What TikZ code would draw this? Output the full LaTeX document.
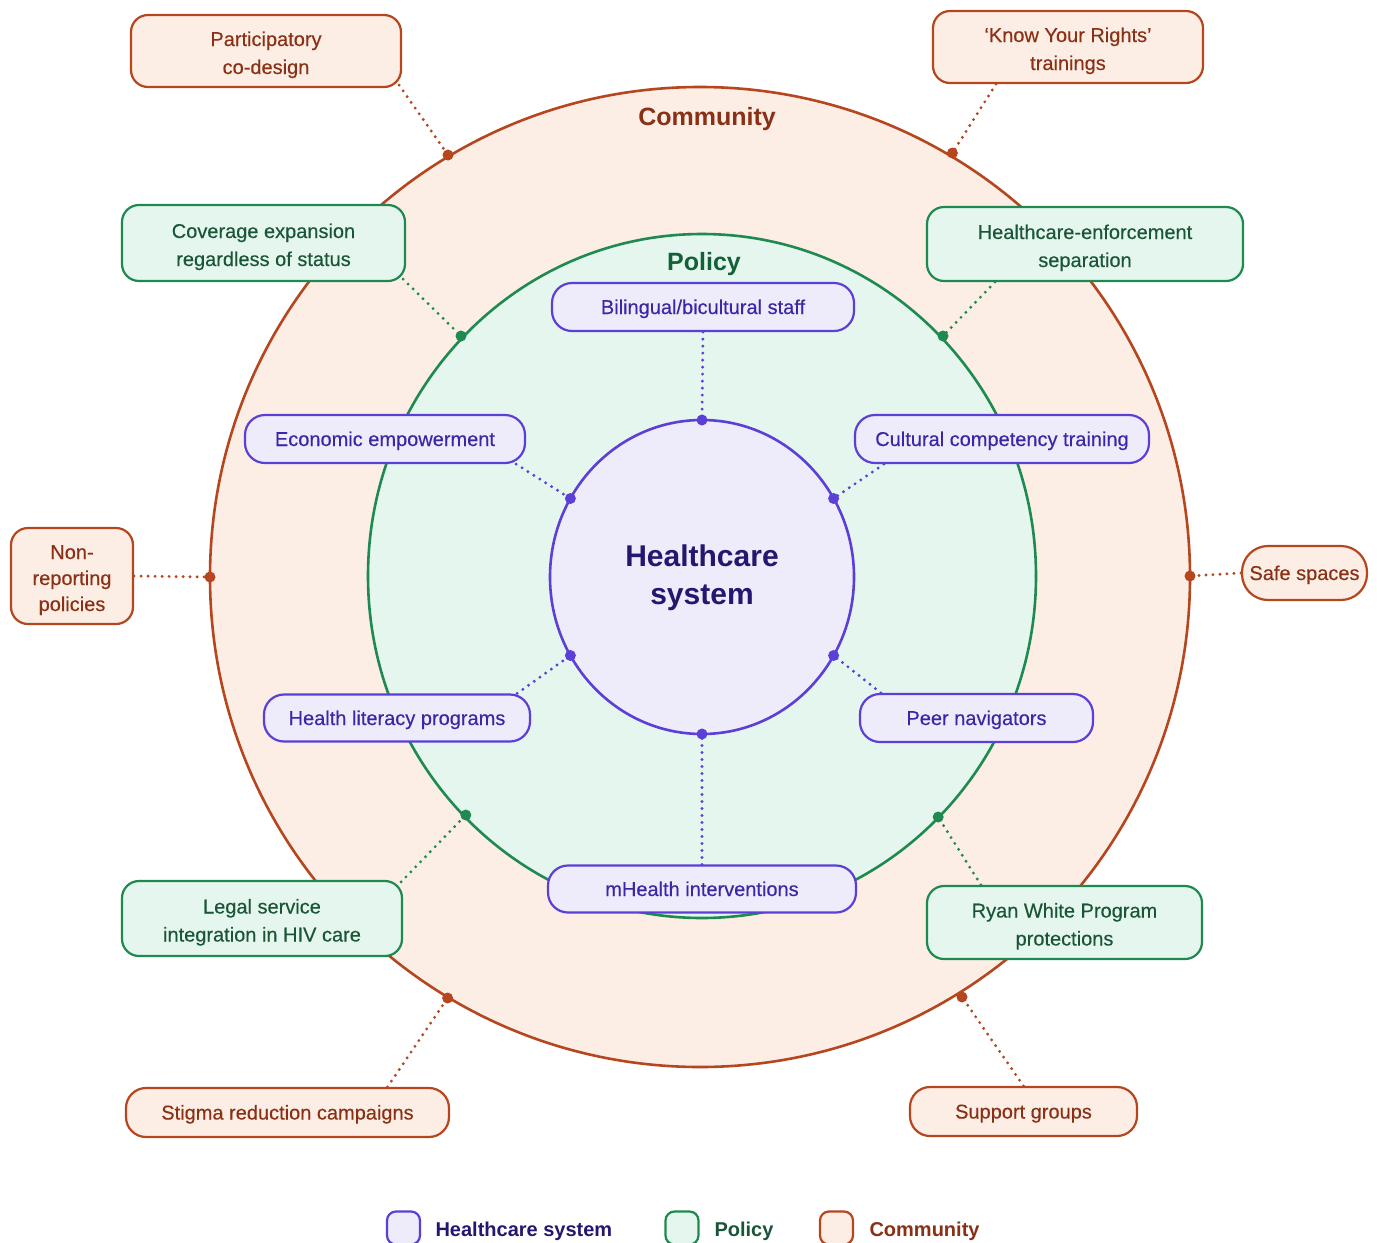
\documentclass[tikz,border=0pt]{standalone}
\usepackage{fontspec}
\setmainfont{Liberation Sans}
\newfontfamily\medfont{Liberation Sans}[FakeBold=0.3]
\definecolor{hcol}{HTML}{5B3FD6}
\definecolor{hfill}{HTML}{EEEBFB}
\definecolor{htext}{HTML}{3B26A6}
\definecolor{hdark}{HTML}{25166F}
\definecolor{pcol}{HTML}{1E8A4F}
\definecolor{pfill}{HTML}{E4F6EE}
\definecolor{ptext}{HTML}{1B5537}
\definecolor{ccol}{HTML}{B5461E}
\definecolor{cfill}{HTML}{FCEDE5}
\definecolor{ctext}{HTML}{8A3014}
\pgfdeclarelayer{bg}
\pgfdeclarelayer{mid}
\pgfsetlayers{bg,mid,main}
\tikzset{
  boxbase/.style={line width=2.2pt, rounded corners=17pt, inner sep=0pt, align=center,
    font=\medfont\fontsize{20}{28}\selectfont, text height=14pt, text depth=0pt},
  twoline/.style={text height=46pt, text depth=0pt},
  hbox/.style={boxbase, draw=hcol, fill=hfill, text=htext},
  pbox/.style={boxbase, draw=pcol, fill=pfill, text=ptext},
  cbox/.style={boxbase, draw=ccol, fill=cfill, text=ctext},
  link/.style={line width=3.2pt, line cap=round, dash pattern=on 0pt off 7pt},
  legsq/.style={line width=2.2pt, rounded corners=9pt, minimum size=33pt, inner sep=0pt},
  legtext/.style={anchor=west, font=\bfseries\fontsize{20}{24}\selectfont}
}
\begin{document}
\begin{tikzpicture}[x=1pt,y=-1pt]
\useasboundingbox (0,0) rectangle (1377,1243);
\begin{pgfonlayer}{bg}
  \fill[white] (0,0) rectangle (1377,1243);
  \draw[ccol, fill=cfill, line width=2.6pt] (700,577) ellipse (490pt and 490pt);
  \draw[pcol, fill=pfill, line width=2.6pt] (702,576) ellipse (334pt and 342pt);
  \draw[hcol, fill=hfill, line width=2.6pt] (702,577) ellipse (152pt and 157pt);
\end{pgfonlayer}

% labels
\node[font=\bfseries\fontsize{25}{30}\selectfont, text=ctext] (lcom) at (707,119) {Community};
\node[font=\bfseries\fontsize{25}{30}\selectfont, text=pcol!70!black] (lpol) at (704,264) {Policy};
\node[font=\bfseries\fontsize{30}{38}\selectfont, text=hdark, align=center] (lhc) at (702,578) {Healthcare\\system};

% anchor points on circles
\coordinate (h1) at (702,420);
\coordinate (h2) at (833.6,498.5);
\coordinate (h3) at (570.4,498.5);
\coordinate (h4) at (570.4,655.5);
\coordinate (h5) at (833.6,655.5);
\coordinate (h6) at (702,734);
\coordinate (p1) at (461,336);
\coordinate (p2) at (943,336);
\coordinate (p3) at (465.8,815);
\coordinate (p4) at (938.2,817);
\coordinate (c1) at (448,155);
\coordinate (c2) at (952.4,153);
\coordinate (c3) at (210,577);
\coordinate (c4) at (1190,576);
\coordinate (c5) at (447.6,998);
\coordinate (c6) at (962,997);

% boxes
\node[cbox, twoline, minimum width=270pt, minimum height=72pt] (pc) at (266,51) {Participatory\\co-design};
\node[cbox, twoline, minimum width=270pt, minimum height=72pt] (kyr) at (1068,47) {‘Know Your Rights’\\trainings};
\node[pbox, twoline, minimum width=283pt, minimum height=76pt] (cov) at (263.5,243) {Coverage expansion\\regardless of status};
\node[pbox, twoline, minimum width=316pt, minimum height=74pt] (hes) at (1085,244) {Healthcare-enforcement\\separation};
\node[hbox, minimum width=302pt, minimum height=48pt, rounded corners=20pt] (bil) at (703,307) {Bilingual/bicultural staff};
\node[hbox, minimum width=280pt, minimum height=48pt, rounded corners=20pt] (eco) at (385,439) {Economic empowerment};
\node[hbox, minimum width=294pt, minimum height=48pt, rounded corners=20pt] (cul) at (1002,439) {Cultural competency training};
\node[cbox, minimum width=122pt, minimum height=96pt, font=\medfont\fontsize{20}{26}\selectfont, text height=70pt, text depth=0pt] (nrp) at (72,576) {Non-\\reporting\\policies};
\node[cbox, minimum width=125pt, minimum height=54pt, rounded corners=26pt] (safe) at (1304.5,573) {Safe spaces};
\node[hbox, minimum width=266pt, minimum height=47pt, rounded corners=20pt] (hlp) at (397,718) {Health literacy programs};
\node[hbox, minimum width=233pt, minimum height=48pt, rounded corners=20pt] (peer) at (976.5,718) {Peer navigators};
\node[hbox, minimum width=308pt, minimum height=47pt, rounded corners=20pt] (mh) at (702,889) {mHealth interventions};
\node[pbox, twoline, minimum width=280pt, minimum height=75pt] (legal) at (262,918.5) {Legal service\\integration in HIV care};
\node[pbox, twoline, minimum width=275pt, minimum height=73pt] (ryan) at (1064.5,922.5) {Ryan White Program\\protections};
\node[cbox, minimum width=323pt, minimum height=49pt, rounded corners=20pt] (stig) at (287.5,1112.5) {Stigma reduction campaigns};
\node[cbox, minimum width=227pt, minimum height=49pt, rounded corners=20pt] (sup) at (1023.5,1111.5) {Support groups};

% connectors
\begin{pgfonlayer}{mid}
  \draw[link, hcol] (bil.south) -- (h1);
  \draw[link, hcol] ([xshift=-10pt]eco.south east) -- (h3);
  \draw[link, hcol] ([xshift=30pt]cul.south west) -- (h2);
  \draw[link, hcol] ([xshift=-14pt]hlp.north east) -- (h4);
  \draw[link, hcol] ([xshift=22pt]peer.north west) -- (h5);
  \draw[link, hcol] (mh.north) -- (h6);
  \draw[link, pcol] ([xshift=-3pt,yshift=3pt]cov.south east) -- (p1);
  \draw[link, pcol] ([xshift=-90pt]hes.south) -- (p2);
  \draw[link, pcol] ([xshift=-2pt,yshift=-2pt]legal.north east) -- (p3);
  \draw[link, pcol] ([xshift=55pt]ryan.north west) -- (p4);
  \draw[link, ccol] ([xshift=-3pt,yshift=3pt]pc.south east) -- (c1);
  \draw[link, ccol] ([xshift=-72pt]kyr.south) -- (c2);
  \draw[link, ccol] (nrp.east) -- (c3);
  \draw[link, ccol] (safe.west) -- (c4);
  \draw[link, ccol] ([xshift=100pt]stig.north) -- (c5);
  \draw[link, ccol] (sup.north) -- (c6);
  \foreach \d in {h1,h2,h3,h4,h5,h6} \fill[hcol] (\d) circle (5.5pt);
  \foreach \d in {p1,p2,p3,p4} \fill[pcol] (\d) circle (5.5pt);
  \foreach \d in {c1,c2,c3,c4,c5,c6} \fill[ccol] (\d) circle (5.5pt);
\end{pgfonlayer}

% legend
\node[legsq, draw=hcol, fill=hfill] (lg1) at (403.5,1228) {};
\node[legtext, text=hdark] (lt1) at (432,1231) {Healthcare system};
\node[legsq, draw=pcol, fill=pfill] (lg2) at (682,1228) {};
\node[legtext, text=ptext] (lt2) at (711,1231) {Policy};
\node[legsq, draw=ccol, fill=cfill] (lg3) at (836.5,1228) {};
\node[legtext, text=ctext] (lt3) at (866,1231) {Community};
\end{tikzpicture}
\end{document}
